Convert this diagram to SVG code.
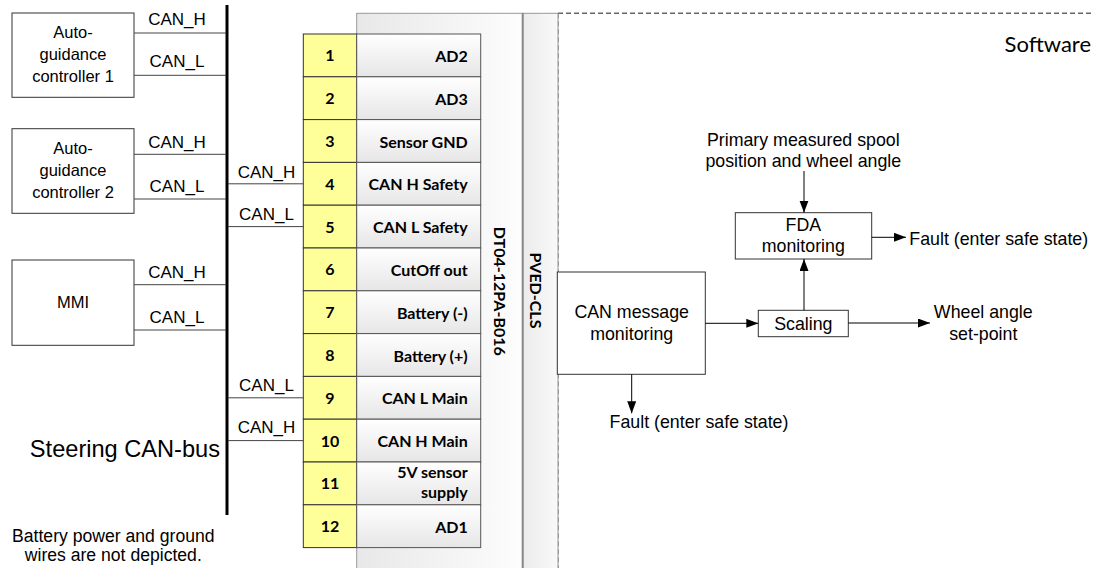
<svg xmlns="http://www.w3.org/2000/svg" width="1094" height="568" viewBox="0 0 1094 568">
<style>
.a{font-family:"Liberation Sans",Arial,sans-serif;fill:#000}
.m{text-anchor:middle}
.e{text-anchor:end}
.s17{font-size:17px}
.s16{font-size:16.5px}
.s175{font-size:17.8px}
.c{font-family:Lato,"Open Sans",sans-serif;font-weight:bold;font-size:16px;fill:#000}
.box{fill:#fff;stroke:#333;stroke-width:1}
.wire{stroke:#444;stroke-width:1;fill:none}
.arr{stroke:#000;stroke-width:1;fill:none;marker-end:url(#ah)}
.pin{fill:#ffff99;stroke:#333;stroke-width:1}
.cell{fill:url(#cg);stroke:#555;stroke-width:1}
.dash{stroke:#666;stroke-width:1.4;stroke-dasharray:5 3;fill:none}
</style>
<defs>
<marker id="ah" markerUnits="userSpaceOnUse" markerWidth="12" markerHeight="10" refX="12" refY="4.5" orient="auto">
<path d="M0,0 L12,4.5 L0,9 z" fill="#000"/>
</marker>
<linearGradient id="og" x1="0" y1="0" x2="1" y2="0">
<stop offset="0" stop-color="#e8e8e8"/>
<stop offset="1" stop-color="#fdfdfd"/>
</linearGradient>
<linearGradient id="pg" x1="0" y1="0" x2="1" y2="0">
<stop offset="0" stop-color="#ebebeb"/>
<stop offset="1" stop-color="#f9f9f9"/>
</linearGradient>
<linearGradient id="cg" x1="0" y1="0" x2="0" y2="1">
<stop offset="0" stop-color="#ffffff"/>
<stop offset="1" stop-color="#e6e6e6"/>
</linearGradient>
</defs>
<rect width="1094" height="568" fill="#fff"/>

<g id="software-boundary">
<line class="dash" x1="558" y1="13.3" x2="1094" y2="13.3"/>
<line class="dash" x1="558" y1="13.3" x2="558" y2="568"/>
<text class="c" x="1091" y="52" text-anchor="end" style="font-weight:normal;font-size:22px">Software</text>
</g>

<g id="housing">
<rect x="356.7" y="13.3" width="166" height="570" fill="url(#og)" stroke="#999" stroke-width="1"/>
<rect x="522.7" y="13.3" width="35.3" height="570" fill="url(#pg)" stroke="#999" stroke-width="1"/>
<line x1="522.7" y1="13.3" x2="522.7" y2="568" stroke="#888" stroke-width="2"/>
<text class="c" transform="translate(494,291.3) rotate(90)" text-anchor="middle">DT04-12PA-B016</text>
<text class="c" transform="translate(529.5,290.5) rotate(90)" text-anchor="middle">PVED-CLS</text>
</g>

<g id="bus">
<line x1="227" y1="5" x2="227" y2="515" stroke="#000" stroke-width="3"/>
<text class="a e" x="220" y="457.3" style="font-size:23.6px">Steering CAN-bus</text>
<text class="a m" x="113.3" y="541.7" style="font-size:17.6px">Battery power and ground</text>
<text class="a m" x="113.3" y="561" style="font-size:17.6px">wires are not depicted.</text>
</g>

<g id="agc1">
<rect class="box" x="12" y="13" width="122" height="84.3"/>
<text class="a m s16" x="73" y="38">Auto-</text>
<text class="a m s16" x="73" y="60">guidance</text>
<text class="a m s16" x="73" y="82">controller 1</text>
</g>
<g id="agc2">
<rect class="box" x="12" y="128.7" width="122" height="84.6"/>
<text class="a m s16" x="73" y="153.7">Auto-</text>
<text class="a m s16" x="73" y="175.7">guidance</text>
<text class="a m s16" x="73" y="197.7">controller 2</text>
</g>
<g id="mmi">
<rect class="box" x="12" y="260" width="122" height="85.3"/>
<text class="a m s16" x="73" y="308.3">MMI</text>
</g>

<g id="connector">
<g id="pin1"><rect class="pin" x="303.3" y="34" width="53.4" height="42.8"/><rect class="cell" x="356.7" y="34" width="124" height="42.8"/><text class="c" x="330" y="61.4" text-anchor="middle">1</text><text class="c" x="467.7" y="61.9" text-anchor="end">AD2</text></g>
<g id="pin2"><rect class="pin" x="303.3" y="76.8" width="53.4" height="42.8"/><rect class="cell" x="356.7" y="76.8" width="124" height="42.8"/><text class="c" x="330" y="104.2" text-anchor="middle">2</text><text class="c" x="467.7" y="104.7" text-anchor="end">AD3</text></g>
<g id="pin3"><rect class="pin" x="303.3" y="119.6" width="53.4" height="42.8"/><rect class="cell" x="356.7" y="119.6" width="124" height="42.8"/><text class="c" x="330" y="147" text-anchor="middle">3</text><text class="c" x="467.7" y="147.5" text-anchor="end">Sensor GND</text></g>
<g id="pin4"><rect class="pin" x="303.3" y="162.4" width="53.4" height="42.8"/><rect class="cell" x="356.7" y="162.4" width="124" height="42.8"/><text class="c" x="330" y="189.8" text-anchor="middle">4</text><text class="c" x="467.7" y="190.3" text-anchor="end">CAN H Safety</text></g>
<g id="pin5"><rect class="pin" x="303.3" y="205.2" width="53.4" height="42.8"/><rect class="cell" x="356.7" y="205.2" width="124" height="42.8"/><text class="c" x="330" y="232.6" text-anchor="middle">5</text><text class="c" x="467.7" y="233.1" text-anchor="end">CAN L Safety</text></g>
<g id="pin6"><rect class="pin" x="303.3" y="248" width="53.4" height="42.8"/><rect class="cell" x="356.7" y="248" width="124" height="42.8"/><text class="c" x="330" y="275.4" text-anchor="middle">6</text><text class="c" x="467.7" y="275.9" text-anchor="end">CutOff out</text></g>
<g id="pin7"><rect class="pin" x="303.3" y="290.8" width="53.4" height="42.8"/><rect class="cell" x="356.7" y="290.8" width="124" height="42.8"/><text class="c" x="330" y="318.2" text-anchor="middle">7</text><text class="c" x="467.7" y="318.7" text-anchor="end">Battery (-)</text></g>
<g id="pin8"><rect class="pin" x="303.3" y="333.6" width="53.4" height="42.8"/><rect class="cell" x="356.7" y="333.6" width="124" height="42.8"/><text class="c" x="330" y="361" text-anchor="middle">8</text><text class="c" x="467.7" y="361.5" text-anchor="end">Battery (+)</text></g>
<g id="pin9"><rect class="pin" x="303.3" y="376.4" width="53.4" height="42.8"/><rect class="cell" x="356.7" y="376.4" width="124" height="42.8"/><text class="c" x="330" y="403.8" text-anchor="middle">9</text><text class="c" x="467.7" y="404.3" text-anchor="end">CAN L Main</text></g>
<g id="pin10"><rect class="pin" x="303.3" y="419.2" width="53.4" height="42.8"/><rect class="cell" x="356.7" y="419.2" width="124" height="42.8"/><text class="c" x="330" y="446.6" text-anchor="middle">10</text><text class="c" x="467.7" y="447.1" text-anchor="end">CAN H Main</text></g>
<g id="pin11"><rect class="pin" x="303.3" y="462" width="53.4" height="42.8"/><rect class="cell" x="356.7" y="462" width="124" height="42.8"/><text class="c" x="330" y="489.4" text-anchor="middle">11</text><text class="c" x="467.7" y="478.3" text-anchor="end">5V sensor</text><text class="c" x="467.7" y="497.5" text-anchor="end">supply</text></g>
<g id="pin12"><rect class="pin" x="303.3" y="504.8" width="53.4" height="42.8"/><rect class="cell" x="356.7" y="504.8" width="124" height="42.8"/><text class="c" x="330" y="532.2" text-anchor="middle">12</text><text class="c" x="467.7" y="532.7" text-anchor="end">AD1</text></g>
</g>

<g id="can-monitor">
<rect class="box" x="557.3" y="272" width="148" height="102.3" stroke="#000"/>
<text class="a m s175" x="631.7" y="317.5">CAN message</text>
<text class="a m s175" x="631.7" y="340">monitoring</text>
</g>
<g id="scaling">
<rect class="box" x="758.3" y="310.3" width="90" height="26.4" stroke="#000"/>
<text class="a m s175" x="803.3" y="329.5">Scaling</text>
</g>
<g id="fda">
<rect class="box" x="735.3" y="212.7" width="136.4" height="46.3" stroke="#000"/>
<text class="a m s175" x="803.3" y="230.7">FDA</text>
<text class="a m s175" x="803.3" y="252.3">monitoring</text>
</g>
<g id="labels">
<text class="a m s175" x="803.3" y="146">Primary measured spool</text>
<text class="a m s175" x="803.3" y="167">position and wheel angle</text>
<text class="a s175" x="909.3" y="244.5">Fault (enter safe state)</text>
<text class="a m s175" x="983.3" y="318.3">Wheel angle</text>
<text class="a m s175" x="983.3" y="340">set-point</text>
<text class="a m s175" x="699" y="428.3">Fault (enter safe state)</text>
</g>

<g id="connectors">
<line class="wire" x1="134" y1="33" x2="226" y2="33"/>
<line class="wire" x1="134" y1="75.3" x2="226" y2="75.3"/>
<line class="wire" x1="134" y1="154.3" x2="226" y2="154.3"/>
<line class="wire" x1="134" y1="199" x2="226" y2="199"/>
<line class="wire" x1="134" y1="284.7" x2="226" y2="284.7"/>
<line class="wire" x1="134" y1="330" x2="226" y2="330"/>
<line class="wire" x1="228" y1="183.8" x2="303.3" y2="183.8"/>
<line class="wire" x1="228" y1="226.6" x2="303.3" y2="226.6"/>
<line class="wire" x1="228" y1="397.8" x2="303.3" y2="397.8"/>
<line class="wire" x1="228" y1="440.6" x2="303.3" y2="440.6"/>
<text class="a m s17" x="177" y="25">CAN_H</text>
<text class="a m s17" x="177" y="67">CAN_L</text>
<text class="a m s17" x="177" y="147.7">CAN_H</text>
<text class="a m s17" x="177" y="191.7">CAN_L</text>
<text class="a m s17" x="177" y="278.3">CAN_H</text>
<text class="a m s17" x="177" y="323.3">CAN_L</text>
<text class="a m s17" x="266.5" y="177.7">CAN_H</text>
<text class="a m s17" x="266.5" y="220">CAN_L</text>
<text class="a m s17" x="266.5" y="390.7">CAN_L</text>
<text class="a m s17" x="266.5" y="432.7">CAN_H</text>
<line class="arr" x1="804" y1="171" x2="804" y2="212.7"/>
<line class="arr" x1="804" y1="310.3" x2="804" y2="259"/>
<line class="arr" x1="705.3" y1="323.3" x2="758.3" y2="323.3"/>
<line class="arr" x1="631.7" y1="374.3" x2="631.7" y2="413.3"/>
<line class="arr" x1="871.7" y1="237.3" x2="906" y2="237.3"/>
<line class="arr" x1="848.3" y1="323" x2="930" y2="323"/>
</g>
</svg>
